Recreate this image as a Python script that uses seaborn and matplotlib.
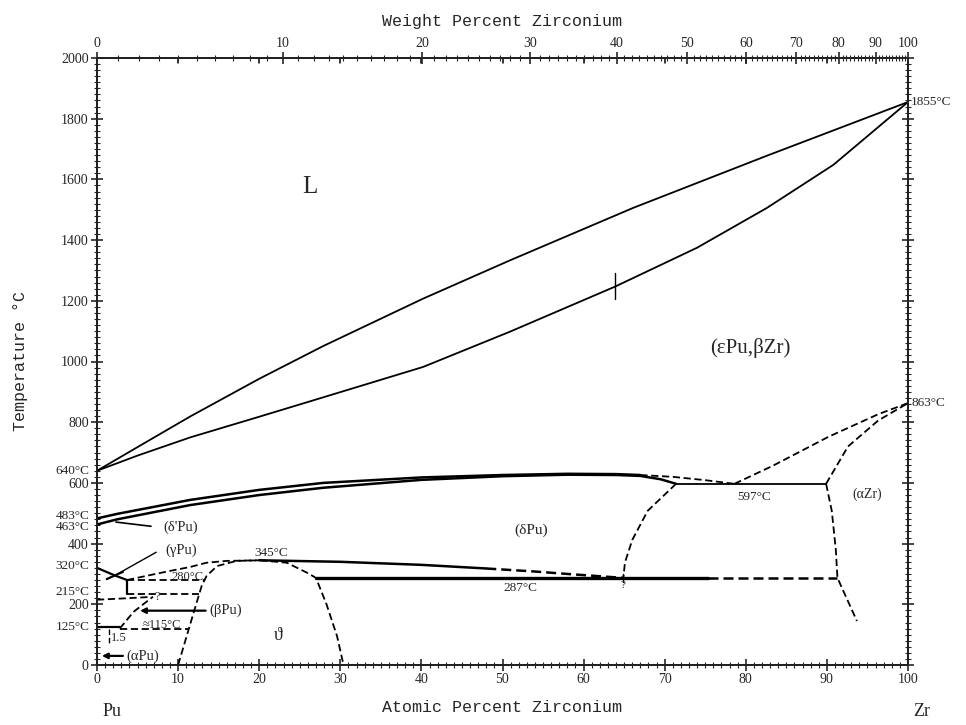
import numpy as np
import matplotlib
matplotlib.use("Agg")
import matplotlib.pyplot as plt
from matplotlib.ticker import MultipleLocator, FixedLocator
import seaborn as sns

# Pu-Zr phase diagram (at.% Zr, deg C)

# liquidus / solidus
liq_x = [0, 5, 11.5, 20, 27.9, 40.2, 50.9, 66.1, 82.6, 100]
liq_t = [640, 718, 819, 943, 1051, 1207, 1333, 1506, 1678, 1855]
sol_x = [0, 5, 11.5, 20, 27.9, 40.2, 50.9, 63.9, 74, 82.6, 90.8, 100]
sol_t = [640, 690, 750, 818, 882, 982, 1098, 1247, 1375, 1506, 1648, 1855]

# (eps+delta) band
dup_x = [0, 2.5, 11.5, 20, 27.9, 40, 50, 58, 64, 67]
dup_t = [483, 498, 544, 577, 600, 618, 626, 630, 629, 626]
dup_dash_x = [67, 71, 75, 78.6]
dup_dash_t = [626, 620, 609, 597]
dlo_x = [0, 2.5, 11.5, 20, 27.9, 40, 50, 58, 64, 67, 69.5, 71.4]
dlo_t = [463, 480, 527, 560, 584, 610, 622, 627, 626, 623, 612, 597]

# eutectoid 597 and Zr-rich boundaries
eut597_x = [71.4, 89.9]
eut597_t = [597, 597]
bzr_x = [78.6, 83.3, 90.2, 96.3, 100]
bzr_t = [597, 656, 752, 826, 863]
azr_up_x = [89.9, 92.6, 96.3, 100]
azr_up_t = [597, 720, 805, 863]
azr_lo_x = [89.9, 90.6, 91.1, 91.3, 93.7]
azr_lo_t = [597, 508, 380, 287, 145]
dsolv_x = [71.4, 67.9, 66.0, 65.1, 64.9]
dsolv_t = [597, 508, 412, 338, 287]

# 287 eutectoid
e287_x = [27.0, 75.3]
e287_t = [287, 287]
e287_dash_x = [75.3, 91.3]
e287_dash_t = [287, 287]

# (delta) / theta boundary from the 345 maximum
dth_x = [20, 30, 40, 48]
dth_t = [345, 340, 330, 318]
dth_dash_x = [48, 54, 58, 64.9]
dth_dash_t = [318, 308, 300, 287]

# theta dome
th_x = [10, 11.9, 12.9, 13.5, 14.8, 17.2, 20.1, 23.4, 25.9, 27.0, 28.3, 29.6, 30.4]
th_t = [0, 171, 260, 293, 326, 343, 345, 337, 304, 287, 200, 95, 0]

# Pu-rich corner
gam_x = [3.7, 6.5, 9, 11.5, 13.5, 16, 20]
gam_t = [280, 296, 310, 323, 337, 343, 345]
xa_x = [0, 2.2, 3.7]
xa_t = [320, 295, 280]
xb_x = [1.2, 2.2, 3.2]
xb_t = [283, 295, 307]
vert_x = [3.7, 3.7]
vert_t = [235, 280]
h280_x = [3.7, 13.2]
h280_t = [280, 280]
h235_x = [3.7, 12.6]
h235_t = [235, 235]
h215_x = [0, 3, 6.5]
h215_t = [215, 219, 224]
bpu_x = [2.8, 4.5, 6.9]
bpu_t = [120, 175, 225]
h125_x = [0, 2.8]
h125_t = [125, 125]
h115_x = [2.8, 11.4]
h115_t = [120, 120]
v15_x = [1.5, 1.5]
v15_t = [118, 65]
mark_x = [63.9, 63.9]
mark_t = [1205, 1290]
mark287_x = [64.9, 64.9]
mark287_t = [300, 275]

wt_ticks = [0, 10, 20, 30, 40, 50, 60, 70, 80, 90, 100]


def wt_to_at(w):
    w = np.asarray(w, float)
    a = w / 91.224
    b = (100 - w) / 244.0
    return 100 * a / (a + b)


sns.set_theme(style="ticks")
plt.rcParams["font.family"] = ["Liberation Serif", "DejaVu Serif"]

fig = plt.figure(figsize=(9.66, 7.25), dpi=100)
ax = fig.add_axes([97 / 966, 1 - 665 / 725, 811 / 966, 607 / 725])


def draw(xs, ts, dashed=False, lw=1.3):
    ls = (0, (4, 2)) if dashed else "-"
    sns.lineplot(x=xs, y=ts, ax=ax, sort=False, estimator=None,
                 color="black", linewidth=lw, linestyle=ls)


draw(liq_x, liq_t)
draw(sol_x, sol_t)
draw(dup_x, dup_t, lw=1.8)
draw(dup_dash_x, dup_dash_t, dashed=True)
draw(dlo_x, dlo_t, lw=1.8)
draw(eut597_x, eut597_t)
draw(bzr_x, bzr_t, dashed=True)
draw(azr_up_x, azr_up_t, dashed=True)
draw(azr_lo_x, azr_lo_t, dashed=True)
draw(dsolv_x, dsolv_t, dashed=True)
draw(e287_x, e287_t, lw=2.4)
draw(e287_dash_x, e287_dash_t, dashed=True, lw=1.8)
draw(dth_x, dth_t, lw=1.8)
draw(dth_dash_x, dth_dash_t, dashed=True, lw=1.8)
draw(th_x, th_t, dashed=True)
draw(gam_x, gam_t, dashed=True)
draw(xa_x, xa_t, lw=1.6)
draw(xb_x, xb_t, lw=1.6)
draw(vert_x, vert_t, lw=1.6)
draw(h280_x, h280_t, dashed=True)
draw(h235_x, h235_t, dashed=True)
draw(h215_x, h215_t, dashed=True)
draw(bpu_x, bpu_t, dashed=True)
draw(h125_x, h125_t, lw=1.6)
draw(h115_x, h115_t, dashed=True)
draw(v15_x, v15_t, dashed=True, lw=1.0)
draw(mark_x, mark_t, lw=1.0)
draw(mark287_x, mark287_t, lw=1.0)

ax.set_xlim(0, 100)
ax.set_ylim(0, 2000)
ax.set_xlabel("")
ax.set_ylabel("")

# axes and ticks
ax.xaxis.set_major_locator(MultipleLocator(10))
ax.xaxis.set_minor_locator(MultipleLocator(1))
ax.yaxis.set_major_locator(MultipleLocator(200))
ax.yaxis.set_minor_locator(MultipleLocator(20))
ax.tick_params(which="major", direction="inout", length=8, width=1.2,
               labelsize=10, right=True, pad=2)
ax.tick_params(which="minor", direction="inout", length=4, width=0.8, right=True)
for s in ax.spines.values():
    s.set_linewidth(1.4)
    s.set_color("black")

top = ax.twiny()
top.set_xlim(0, 100)
top.xaxis.set_major_locator(FixedLocator(wt_to_at(wt_ticks)))
top.set_xticklabels([str(w) for w in wt_ticks])
top.xaxis.set_minor_locator(FixedLocator(wt_to_at(np.arange(0, 101, 1))))
top.tick_params(which="major", direction="inout", length=8, width=1.2,
                labelsize=10, pad=2)
top.tick_params(which="minor", direction="inout", length=4, width=0.8)

# at.% major ticks also marked inside the top frame
for xv in range(10, 100, 10):
    ax.plot([xv, xv], [2000, 1985], color="black", lw=1.1, clip_on=False)

mono = "Liberation Mono"
top.set_xlabel("Weight Percent Zirconium", family=mono, fontsize=12, labelpad=8)
ax.set_xlabel("Atomic Percent Zirconium", family=mono, fontsize=12, labelpad=10)
ax.set_ylabel("Temperature °C", family=mono, fontsize=12, labelpad=24)

fig.text(112 / 966, 1 - 712 / 725, "Pu", fontsize=13, ha="center", va="center")
fig.text(922 / 966, 1 - 712 / 725, "Zr", fontsize=13, ha="center", va="center")

# temperature marks outside the frame
for t, lab in [(640, "640°C"), (490, "483°C"), (456, "463°C"), (325, "320°C"),
               (240, "215°C"), (125, "125°C")]:
    ax.text(-0.9, t, lab, ha="right", va="center", fontsize=9.5, clip_on=False)
ax.text(100.4, 1855, "1855°C", ha="left", va="center", fontsize=9.5, clip_on=False)
ax.text(100.4, 863, "863°C", ha="left", va="center", fontsize=9.5, clip_on=False)

# region and point labels
ax.text(26.3, 1575, "L", fontsize=18, ha="center", va="center")
ax.text(80.5, 1045, "(εPu,βZr)", fontsize=15, ha="center", va="center")
ax.text(53.5, 444, "(δPu)", fontsize=11, ha="center", va="center")
ax.text(95.0, 561, "(αZr)", fontsize=10, ha="center", va="center")
ax.text(81.0, 555, "597°C", fontsize=9.5, ha="center", va="center")
ax.text(52.2, 255, "287°C", fontsize=9.5, ha="center", va="center")
ax.text(21.5, 370, "345°C", fontsize=9.5, ha="center", va="center")
ax.text(11.2, 290, "280°C", fontsize=9, ha="center", va="center")
ax.text(8.0, 133, "≈115°C", fontsize=9, ha="center", va="center")
ax.text(7.4, 224, "?", fontsize=9, ha="center", va="center")
ax.text(64.9, 262, "?", fontsize=8, ha="center", va="center")
ax.text(1.7, 88, "1.5", fontsize=9, ha="left", va="center")
ax.text(22.4, 96, "ϑ", fontsize=13, ha="center", va="center")
ax.text(10.3, 455, "(δ'Pu)", fontsize=10.5, ha="center", va="center")
ax.text(10.4, 378, "(γPu)", fontsize=10.5, ha="center", va="center")

arrow = dict(arrowstyle="-|>", color="black", lw=1.6, mutation_scale=8,
             shrinkA=0, shrinkB=0)
ax.annotate("(βPu)", xy=(5.3, 179), xytext=(13.8, 179), fontsize=10.5,
            ha="left", va="center", arrowprops=arrow)
ax.annotate("(αPu)", xy=(0.6, 30), xytext=(3.6, 30), fontsize=10.5,
            ha="left", va="center", arrowprops=arrow)
ax.annotate("", xy=(2.2, 295), xytext=(7.6, 376),
            arrowprops=dict(arrowstyle="-", color="black", lw=1.0))
ax.annotate("", xy=(2.0, 472), xytext=(7.0, 456),
            arrowprops=dict(arrowstyle="-", color="black", lw=1.2))

fig.savefig("out.png", dpi=100)
